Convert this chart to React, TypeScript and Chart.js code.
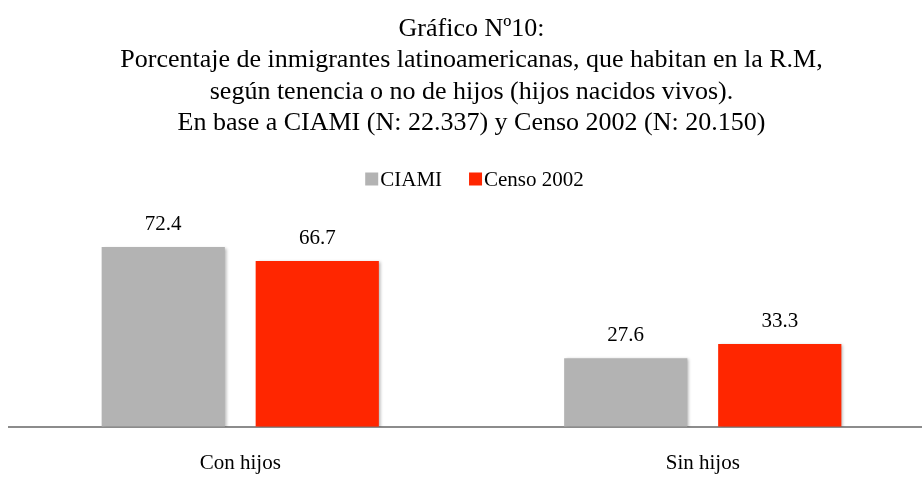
import React, { useEffect, useRef } from "react";
import { Chart, registerables } from "chart.js";

Chart.register(...registerables);

const titleLines = [
  "Gráfico Nº10:",
  "Porcentaje de inmigrantes latinoamericanas, que habitan en la R.M,",
  "según tenencia o no de hijos (hijos nacidos vivos).",
  "En base a CIAMI (N: 22.337) y Censo 2002 (N: 20.150)",
];
const categories = ["Con hijos", "Sin hijos"];
const seriesNames = ["CIAMI", "Censo 2002"];
const ciamiValues = [72.4, 27.6];
const censoValues = [66.7, 33.3];
const seriesColors = ["#b3b3b3", "#ff2600"];

const FONT = "'Liberation Serif', 'Times New Roman', serif";
const W = 943;
const H = 500;

const decorPlugin = {
  id: "decor",
  beforeDatasetsDraw(chart: any) {
    const ctx = chart.ctx;
    ctx.save();
    ctx.shadowColor = "rgba(0,0,0,0.28)";
    ctx.shadowBlur = 3;
    ctx.shadowOffsetX = 2;
    ctx.shadowOffsetY = 1;
  },
  afterDatasetsDraw(chart: any) {
    const ctx = chart.ctx;
    ctx.restore();
    // data labels
    ctx.save();
    ctx.fillStyle = "#000";
    ctx.font = `21px ${FONT}`;
    ctx.textAlign = "center";
    ctx.textBaseline = "middle";
    chart.data.datasets.forEach((ds: any, i: number) => {
      const meta = chart.getDatasetMeta(i);
      meta.data.forEach((bar: any, j: number) => {
        ctx.fillText(ds.data[j].toFixed(1), bar.x, bar.y - 22.5);
      });
    });
    ctx.restore();
  },
  afterDraw(chart: any) {
    const ctx = chart.ctx;
    const cx = chart.width / 2;
    ctx.save();
    // title
    ctx.fillStyle = "#000";
    ctx.font = `26px ${FONT}`;
    ctx.textAlign = "center";
    ctx.textBaseline = "middle";
    const ys = [29, 60, 92, 123];
    titleLines.forEach((t, i) => ctx.fillText(t, cx, ys[i]));
    // legend
    ctx.font = `21px ${FONT}`;
    const box = 13;
    const gapBoxText = 2;
    const gapItems = 27;
    const items = chart.data.datasets.map((ds: any) => ({
      label: ds.label,
      color: ds.backgroundColor,
      w: ctx.measureText(ds.label).width,
    }));
    let total = 0;
    items.forEach((it: any, i: number) => {
      total += box + gapBoxText + it.w + (i > 0 ? gapItems : 0);
    });
    let x = cx + 3 - total / 2;
    const ly = 179;
    ctx.textAlign = "left";
    items.forEach((it: any) => {
      ctx.fillStyle = it.color;
      ctx.fillRect(x, ly - box / 2, box, box);
      ctx.fillStyle = "#000";
      ctx.fillText(it.label, x + box + gapBoxText, ly + 1);
      x += box + gapBoxText + it.w + gapItems;
    });
    ctx.restore();
  },
};

export default function App() {
  const ref = useRef<HTMLCanvasElement | null>(null);
  useEffect(() => {
    if (!ref.current) return;
    const chart = new Chart(ref.current, {
      type: "bar",
      data: {
        labels: categories,
        datasets: [
          {
            label: seriesNames[0],
            data: ciamiValues,
            backgroundColor: seriesColors[0],
            categoryPercentage: 0.666,
            barPercentage: 0.8,
          },
          {
            label: seriesNames[1],
            data: censoValues,
            backgroundColor: seriesColors[1],
            categoryPercentage: 0.666,
            barPercentage: 0.8,
          },
        ],
      },
      options: {
        responsive: false,
        animation: false,
        layout: { padding: { top: 228, left: 9, right: 9, bottom: 0 } },
        plugins: {
          legend: { display: false },
          title: { display: false },
          tooltip: { enabled: false },
        },
        scales: {
          x: {
            grid: { display: false, drawTicks: false },
            border: { display: true, color: "#8c8c8c", width: 2 },
            ticks: {
              color: "#000",
              font: { family: FONT, size: 21 },
              padding: 24,
            },
          },
          y: {
            display: false,
            min: 0,
            max: 80,
          },
        },
      },
      plugins: [decorPlugin],
    });
    return () => chart.destroy();
  }, []);
  return (
    <div
      style={{
        position: "fixed",
        left: 0,
        top: 0,
        width: 922,
        height: 497,
        overflow: "hidden",
        background: "#fff",
      }}
    >
      <canvas ref={ref} width={W} height={H} style={{ width: W, height: H, display: "block" }} />
    </div>
  );
}
